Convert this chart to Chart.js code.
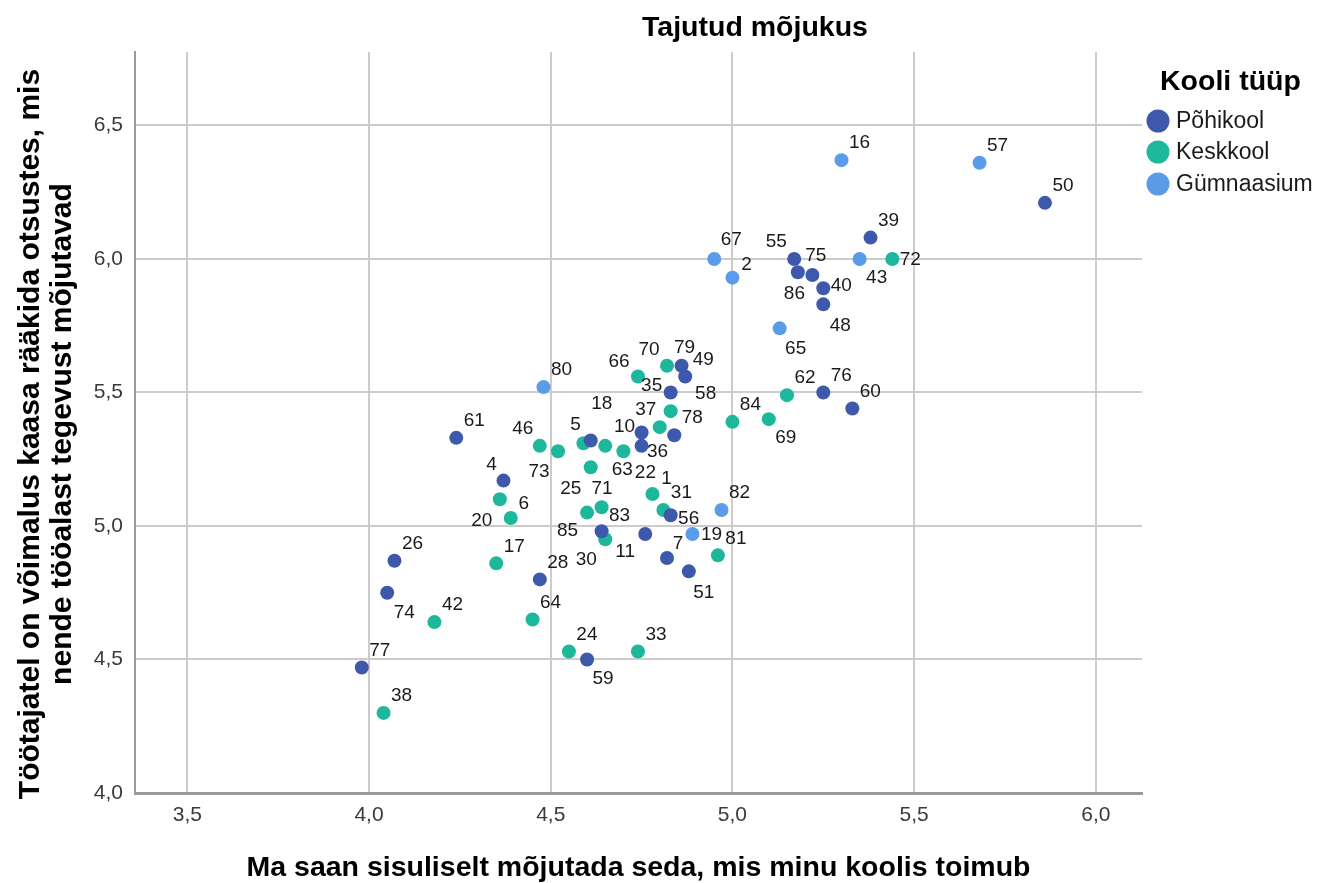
<!DOCTYPE html>
<html>
<head>
<meta charset="utf-8">
<script src="https://cdn.jsdelivr.net/npm/chart.js@4.4.0/dist/chart.umd.min.js"></script>
<style>
  html, body { margin: 0; padding: 0; background: #ffffff; }
  #wrap { width: 1319px; height: 883px; }
</style>
</head>
<body>
<div id="wrap"><canvas id="c" width="1319" height="883"></canvas></div>
<script>
// ---------- DATA ----------
const chartTitle = "Tajutud mõjukus";
const xAxisTitle = "Ma saan sisuliselt mõjutada seda, mis minu koolis toimub";
const yAxisTitleLines = ["Töötajatel on võimalus kaasa rääkida otsustes, mis", "nende tööalast tegevust mõjutavad"];
const legendTitle = "Kooli tüüp";
const seriesNames = ["Põhikool", "Keskkool", "Gümnaasium"];

const xTicks = [3.5, 4.0, 4.5, 5.0, 5.5, 6.0];
const yTicks = [4.0, 4.5, 5.0, 5.5, 6.0, 6.5];

const caseIdsPohikool = [50, 39, 55, 75, 86, 40, 48, 79, 49, 35, 76, 60, 78, 10, 36, 61, 18, 4, 56, 85, 11, 7, 51, 28, 26, 74, 77, 59];
const xPohikool = [5.86, 5.38, 5.17, 5.18, 5.22, 5.25, 5.25, 4.86, 4.87, 4.83, 5.25, 5.33, 4.84, 4.75, 4.75, 4.24, 4.61, 4.37, 4.83, 4.64, 4.76, 4.82, 4.88, 4.47, 4.07, 4.05, 3.98, 4.60];
const yPohikool = [6.21, 6.08, 6.00, 5.95, 5.94, 5.89, 5.83, 5.60, 5.56, 5.50, 5.50, 5.44, 5.34, 5.35, 5.30, 5.33, 5.32, 5.17, 5.04, 4.98, 4.97, 4.88, 4.83, 4.80, 4.87, 4.75, 4.47, 4.50];

const caseIdsKeskkool = [72, 70, 66, 62, 58, 37, 84, 69, 5, 63, 46, 73, 22, 1, 31, 25, 71, 83, 30, 6, 20, 17, 42, 64, 38, 24, 33, 81];
const xKeskkool = [5.44, 4.82, 4.74, 5.15, 4.83, 4.80, 5.00, 5.10, 4.59, 4.65, 4.47, 4.52, 4.70, 4.78, 4.81, 4.61, 4.60, 4.64, 4.65, 4.39, 4.36, 4.35, 4.18, 4.45, 4.04, 4.55, 4.74, 4.96];
const yKeskkool = [6.00, 5.60, 5.56, 5.49, 5.43, 5.37, 5.39, 5.40, 5.31, 5.30, 5.30, 5.28, 5.28, 5.12, 5.06, 5.22, 5.05, 5.07, 4.95, 5.03, 5.10, 4.86, 4.64, 4.65, 4.30, 4.53, 4.53, 4.89];

const caseIdsGymnaasium = [16, 57, 67, 2, 43, 65, 80, 82, 19];
const xGymnaasium = [5.30, 5.68, 4.95, 5.00, 5.35, 5.13, 4.48, 4.97, 4.89];
const yGymnaasium = [6.37, 6.36, 6.00, 5.93, 6.00, 5.74, 5.52, 5.06, 4.97];

// ---------- STYLE / LABEL PLACEMENT ----------
const seriesColors = ["#3e58ac", "#1db79c", "#5a9cea"];
const FONT = "'Liberation Sans', Arial, Helvetica, sans-serif";
const defaultLabelOffset = [18, -18];
const labelOffsets = {
  55: [-18, -18], 86: [-18, 18], 40: [18, -4], 48: [17, 20], 79: [3, -19], 35: [-19, -8],
  10: [-17, -7], 36: [16, 5], 18: [11, -38], 4: [-12, -17], 56: [18, 2], 85: [-34, -2],
  11: [-20, 17], 7: [11, -15], 51: [15, 20], 74: [17, 19], 59: [16, 18],
  72: [18, 0], 70: [-18, -17], 66: [-19, -16], 58: [35, -18], 37: [-14, -18], 69: [17, 18],
  5: [-8, -19], 63: [17, 23], 46: [-17, -18], 73: [-19, 20], 22: [22, 21], 1: [14, -16],
  25: [-20, 21], 71: [15, -25], 83: [18, 7], 30: [-19, 19], 6: [13, -15], 20: [-18, 20],
  67: [17, -20], 2: [14, -14], 43: [17, 18], 65: [16, 19], 19: [19, 0]
};

function buildPoints(ids, xs, ys) {
  return ids.map((id, i) => ({ x: xs[i], y: ys[i], id: id }));
}

const fmt = v => Number(v).toFixed(1).replace('.', ',');

const annotPlugin = {
  id: 'annot',
  afterDatasetsDraw(chart) {
    const ctx = chart.ctx;
    ctx.save();
    ctx.fillStyle = '#1a1a1a';
    ctx.font = '19px ' + FONT;
    ctx.textAlign = 'center';
    ctx.textBaseline = 'middle';
    chart.data.datasets.forEach((ds, di) => {
      const meta = chart.getDatasetMeta(di);
      meta.data.forEach((el, j) => {
        const id = ds.data[j].id;
        const off = labelOffsets[id] || defaultLabelOffset;
        ctx.fillText(String(id), el.x + off[0], el.y + off[1] + 1);
      });
    });
    ctx.restore();
  },
  afterDraw(chart) {
    const ctx = chart.ctx;
    const ca = chart.chartArea;
    ctx.save();
    // title
    ctx.fillStyle = '#000';
    ctx.font = 'bold 28.5px ' + FONT;
    ctx.textAlign = 'center';
    ctx.textBaseline = 'middle';
    ctx.fillText(chartTitle, 755, 28);
    // x axis title
    ctx.fillText(xAxisTitle, (ca.left + ca.right) / 2, 868);
    // y axis title
    ctx.font = 'bold 30px ' + FONT;
    ctx.save();
    ctx.translate(31, 434);
    ctx.rotate(-Math.PI / 2);
    ctx.fillText(yAxisTitleLines[0], 0, 0);
    ctx.restore();
    ctx.save();
    ctx.translate(63, 434);
    ctx.rotate(-Math.PI / 2);
    ctx.fillText(yAxisTitleLines[1], 0, 0);
    ctx.restore();
    // legend
    ctx.font = 'bold 28.5px ' + FONT;
    ctx.textAlign = 'left';
    ctx.fillText(legendTitle, 1160, 82);
    ctx.font = '23px ' + FONT;
    const ly = [121, 152, 184];
    seriesNames.forEach((name, i) => {
      ctx.beginPath();
      ctx.fillStyle = seriesColors[i];
      ctx.arc(1158, ly[i], 11.5, 0, Math.PI * 2);
      ctx.fill();
      ctx.fillStyle = '#1a1a1a';
      ctx.fillText(name, 1176, ly[i] + 1);
    });
    ctx.restore();
  }
};

const datasets = [
  buildPoints(caseIdsPohikool, xPohikool, yPohikool),
  buildPoints(caseIdsKeskkool, xKeskkool, yKeskkool),
  buildPoints(caseIdsGymnaasium, xGymnaasium, yGymnaasium)
].map((pts, i) => ({
  label: seriesNames[i],
  data: pts,
  backgroundColor: seriesColors[i],
  borderWidth: 0,
  pointRadius: 7,
  pointHoverRadius: 7
}));

new Chart(document.getElementById('c'), {
  type: 'scatter',
  data: { datasets: datasets },
  options: {
    responsive: false,
    animation: false,
    devicePixelRatio: 1,
    layout: { padding: { top: 52, right: 177, left: 0, bottom: 0 } },
    plugins: { legend: { display: false }, tooltip: { enabled: false }, title: { display: false } },
    scales: {
      x: {
        type: 'linear',
        min: 3.356,
        max: 6.127,
        afterBuildTicks: s => { s.ticks = xTicks.map(v => ({ value: v })); },
        afterFit: s => { s.height = 90; },
        ticks: { callback: fmt, font: { family: FONT, size: 21 }, color: '#3a3a3a', padding: 10, autoSkip: false, maxRotation: 0 },
        grid: { color: '#cccccc', lineWidth: 2, drawTicks: false },
        border: { display: true, color: '#9a9a9a', width: 3 }
      },
      y: {
        type: 'linear',
        min: 4.0,
        max: 6.775,
        afterBuildTicks: s => { s.ticks = yTicks.map(v => ({ value: v })); },
        afterFit: s => { s.width = 135; },
        ticks: { callback: fmt, font: { family: FONT, size: 21 }, color: '#3a3a3a', padding: 12, autoSkip: false },
        grid: { color: '#cccccc', lineWidth: 2, drawTicks: false },
        border: { display: true, color: '#9a9a9a', width: 2 }
      }
    }
  },
  plugins: [annotPlugin]
});
</script>
</body>
</html>
